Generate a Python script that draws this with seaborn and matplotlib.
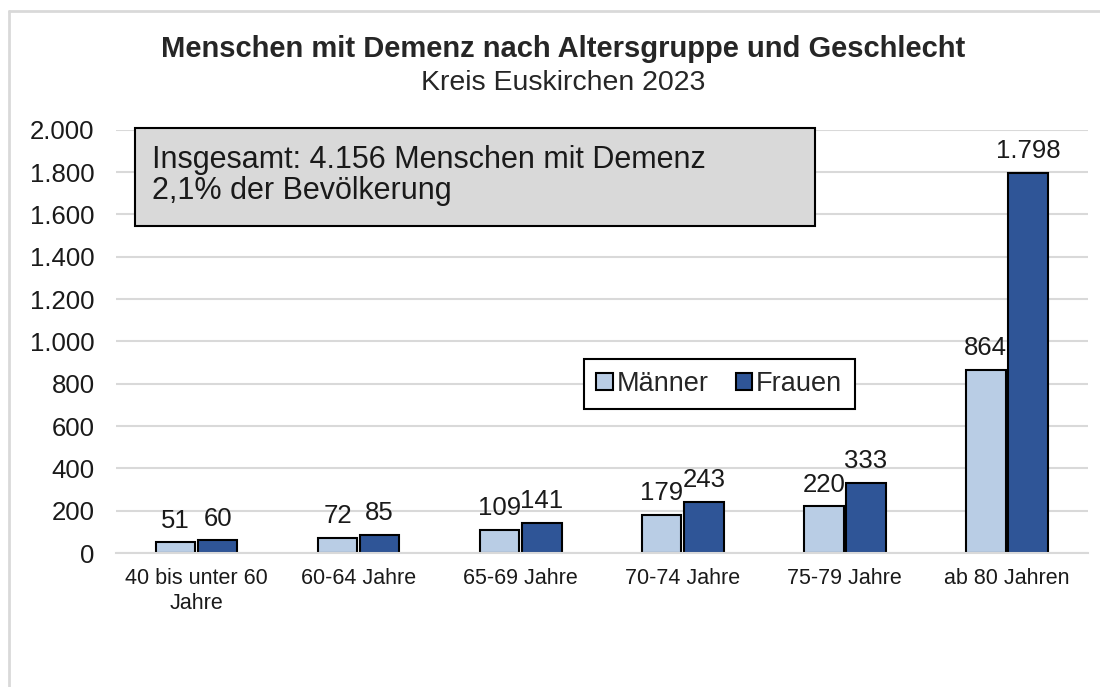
import pandas as pd
import matplotlib
matplotlib.use("Agg")
import matplotlib.pyplot as plt
import seaborn as sns
from matplotlib.patches import Rectangle
from matplotlib.lines import Line2D
from matplotlib.ticker import FuncFormatter

# data
categories = ["40 bis unter 60\nJahre", "60-64 Jahre", "65-69 Jahre",
              "70-74 Jahre", "75-79 Jahre", "ab 80 Jahren"]
maenner = [51, 72, 109, 179, 220, 864]
frauen = [60, 85, 141, 243, 333, 1798]
groups = ["Männer", "Frauen"]
colors = {"Männer": "#B9CDE5", "Frauen": "#2F5597"}

df = pd.DataFrame({
    "kategorie": categories * 2,
    "geschlecht": ["Männer"] * len(categories) + ["Frauen"] * len(categories),
    "anzahl": maenner + frauen,
})


def de_fmt(v, pos=None):
    return f"{int(round(v)):,}".replace(",", ".")


sns.set_style("white")
plt.rcParams["font.family"] = ["Liberation Sans", "DejaVu Sans"]

fig = plt.figure(figsize=(11, 6.87), dpi=100)
ax = fig.add_axes([0.105, 0.195, 0.884, 0.616])

sns.barplot(data=df, x="kategorie", y="anzahl", hue="geschlecht",
            hue_order=groups, palette=colors, saturation=1, width=0.52,
            gap=0.06, edgecolor="black", linewidth=1.5, ax=ax)

for cont in ax.containers:
    vals = [b.get_height() for b in cont]
    ax.bar_label(cont, labels=[de_fmt(v) for v in vals], padding=7,
                 fontsize=18.5, color="#1a1a1a")

ax.set_ylim(0, 2000)
ax.set_yticks(range(0, 2001, 200))
ax.yaxis.set_major_formatter(FuncFormatter(de_fmt))
ax.grid(axis="y", color="#D9D9D9", linewidth=1.5)
ax.set_axisbelow(True)
for s in ["top", "right", "left"]:
    ax.spines[s].set_visible(False)
ax.spines["bottom"].set_color("#D9D9D9")
ax.spines["bottom"].set_linewidth(1.5)
ax.tick_params(axis="y", labelsize=18.5, length=0, pad=15, labelcolor="#1a1a1a")
ax.tick_params(axis="x", labelsize=15.5, length=0, pad=11, labelcolor="#1a1a1a")
ax.set_xlabel("")
ax.set_ylabel("")

handles, labels = ax.get_legend_handles_labels()
ax.legend(handles, labels, ncol=2, loc="center",
          bbox_to_anchor=(0.654, 0.441), bbox_transform=fig.transFigure,
          fontsize=19.5, frameon=True, fancybox=False, edgecolor="black",
          framealpha=1, handlelength=0.6, handleheight=0.6,
          handletextpad=0.15, columnspacing=1.0, borderpad=0.45)
ax.get_legend().get_frame().set_linewidth(1.5)

# title and subtitle
fig.text(0.512, 0.929, "Menschen mit Demenz nach Altersgruppe und Geschlecht",
         ha="center", va="center", fontsize=21, fontweight="bold")
fig.text(0.512, 0.879, "Kreis Euskirchen 2023", ha="center", va="center",
         fontsize=20.5)

# summary box
fig.add_artist(Rectangle((0.1227, 0.671), 0.618, 0.1426,
                         transform=fig.transFigure, facecolor="#D9D9D9",
                         edgecolor="black", linewidth=1.5, zorder=5))
fig.text(0.138, 0.744, "Insgesamt: 4.156 Menschen mit Demenz\n2,1% der Bevölkerung",
         ha="left", va="center", fontsize=22, linespacing=1.05, zorder=6,
         color="#1a1a1a")

# outer chart frame (only top and left visible)
fig.add_artist(Line2D([0.008, 1.0], [0.984, 0.984], transform=fig.transFigure,
                      color="#D9D9D9", linewidth=2))
fig.add_artist(Line2D([0.008, 0.008], [0.0, 0.984], transform=fig.transFigure,
                      color="#D9D9D9", linewidth=2))

fig.savefig("out.png", dpi=100)
